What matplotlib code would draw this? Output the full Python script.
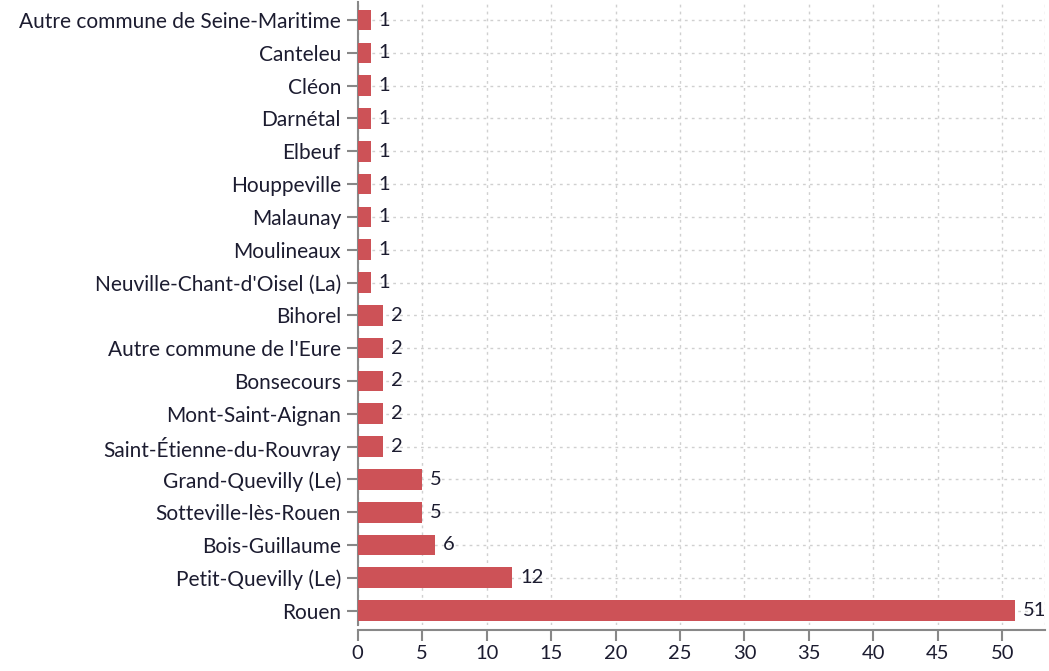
import matplotlib.pyplot as plt

communes = [
    "Autre commune de Seine-Maritime", "Canteleu", "Cléon", "Darnétal", "Elbeuf",
    "Houppeville", "Malaunay", "Moulineaux", "Neuville-Chant-d'Oisel (La)",
    "Bihorel", "Autre commune de l'Eure", "Bonsecours", "Mont-Saint-Aignan",
    "Saint-Étienne-du-Rouvray", "Grand-Quevilly (Le)", "Sotteville-lès-Rouen",
    "Bois-Guillaume", "Petit-Quevilly (Le)", "Rouen",
]
counts = [1, 1, 1, 1, 1, 1, 1, 1, 1, 2, 2, 2, 2, 2, 5, 5, 6, 12, 51]
xticks = list(range(0, 55, 5))

plt.rcParams['font.family'] = ['Lato', 'DejaVu Sans']
text_col = '#1c1c30'
fig = plt.figure(figsize=(10.49, 6.71), dpi=100)
ax = fig.add_axes([0.341, 0.068, 0.655, 0.929])
ax.spines['bottom'].set_position(('outward', 3))

ypos = list(range(len(communes)))[::-1]
ax.barh(ypos, counts, height=0.63, color='#cd5257', zorder=3)
for y, v in zip(ypos, counts):
    ax.text(v + 0.6, y, str(v), va='center', ha='left', fontsize=14.5, color=text_col)

ax.set_yticks(ypos)
ax.set_yticklabels(communes)
ax.set_xticks(xticks)
ax.set_xticklabels([str(t) for t in xticks])
ax.set_xlim(0, 53.3)
ax.set_ylim(-0.45, 18.55)

ax.grid(True, color='#d0d0d0', linestyle=(0, (2, 3)), linewidth=1, zorder=0)
for s in ['top', 'right']:
    ax.spines[s].set_visible(False)
for s in ['left', 'bottom']:
    ax.spines[s].set_color('#888888')
    ax.spines[s].set_linewidth(1.5)
ax.axvline(53.3, color='#d0d0d0', linestyle=(0, (2, 3)), linewidth=1, zorder=0)
ax.tick_params(axis='both', length=8, width=1.5, color='#888888',
               labelsize=15, labelcolor=text_col)
ax.tick_params(axis='y', pad=4)
ax.tick_params(axis='x', pad=3, labelsize=14.5)

fig.savefig('out.png', dpi=100)
